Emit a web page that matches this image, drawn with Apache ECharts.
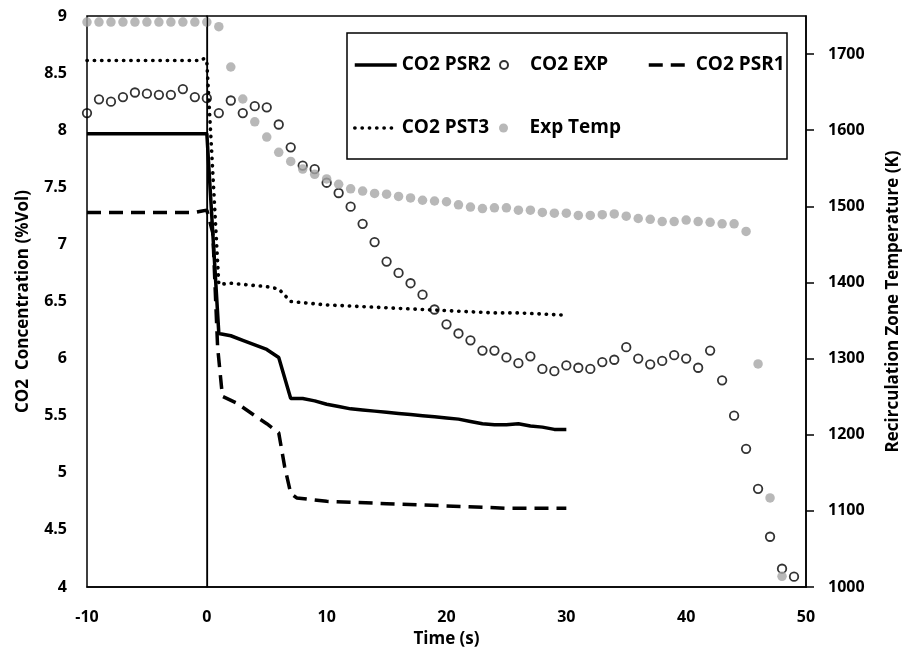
<!DOCTYPE html>
<html>
<head>
<meta charset="utf-8">
<script src="https://cdn.jsdelivr.net/npm/echarts@6/dist/echarts.min.js"></script>
<style>
  html, body { margin: 0; padding: 0; background: #fff; }
  #co2Chart { width: 910px; height: 662px; }
</style>
</head>
<body>
<div id="co2Chart"></div>
<script>
  // measured points (time in s)
  const expTime = [-10, -9, -8, -7, -6, -5, -4, -3, -2, -1, 0, 1, 2, 3, 4, 5, 6, 7, 8, 9,
    10, 11, 12, 13, 14, 15, 16, 17, 18, 19, 20, 21, 22, 23, 24, 25, 26, 27, 28, 29,
    30, 31, 32, 33, 34, 35, 36, 37, 38, 39, 40, 41, 42, 43, 44, 45, 46, 47, 48, 49];
  const expCo2 = [8.15, 8.27, 8.25, 8.29, 8.33, 8.32, 8.31, 8.31, 8.36, 8.29, 8.28, 8.15, 8.26, 8.15, 8.21, 8.20, 8.05, 7.85, 7.69, 7.66,
    7.54, 7.45, 7.33, 7.18, 7.02, 6.85, 6.75, 6.66, 6.56, 6.43, 6.30, 6.22, 6.16, 6.07, 6.07, 6.01, 5.96, 6.02, 5.91, 5.89,
    5.94, 5.92, 5.91, 5.97, 5.99, 6.10, 6.00, 5.95, 5.98, 6.03, 6.00, 5.92, 6.07, 5.81, 5.50, 5.21, 4.86, 4.44, 4.16, 4.09];
  const expTemp = [1742, 1742, 1742, 1742, 1742, 1742, 1742, 1742, 1742, 1742, 1742, 1736, 1683, 1641, 1611, 1591, 1571, 1559, 1549, 1542,
    1536, 1529, 1523, 1520, 1517, 1516, 1513, 1511, 1508, 1507, 1506, 1502, 1499, 1497, 1498, 1498, 1495, 1495, 1492, 1491,
    1491, 1488, 1488, 1489, 1490, 1487, 1484, 1483, 1480, 1480, 1482, 1480, 1479, 1477, 1477, 1467, 1293, 1117, 1014];

  // model curves
  const psr2Time = [-10, 0, 1, 2, 3, 4, 5, 6, 7, 8, 9, 10, 11, 12, 13, 14, 15, 16, 17, 18, 19, 20, 21, 22, 23, 24, 25, 26, 27, 28, 29, 30];
  const psr2Co2 = [7.97, 7.97, 6.22, 6.20, 6.16, 6.12, 6.08, 6.01, 5.65, 5.65, 5.63, 5.60, 5.58, 5.56, 5.55, 5.54, 5.53, 5.52, 5.51, 5.50, 5.49, 5.48, 5.47, 5.45, 5.43, 5.42, 5.42, 5.43, 5.41, 5.40, 5.38, 5.38];
  const psr1Time = [-10, -1, -0.5, 0, 0.5, 0.9, 1.3, 2.5, 4, 5, 6, 6.5, 7, 7.5, 10, 15, 20, 25, 30];
  const psr1Co2 = [7.28, 7.28, 7.29, 7.30, 7.10, 6.10, 5.67, 5.61, 5.50, 5.43, 5.35, 5.05, 4.82, 4.78, 4.75, 4.73, 4.71, 4.69, 4.69];
  const pst3Time = [-10, -0.5, -0.2, 0, 1, 2, 3, 4, 5, 6, 7, 8, 10, 12, 14, 16, 18, 20, 22, 24, 26, 28, 30];
  const pst3Co2 = [8.61, 8.61, 8.63, 8.60, 6.65, 6.66, 6.65, 6.64, 6.63, 6.61, 6.50, 6.49, 6.47, 6.46, 6.45, 6.44, 6.43, 6.42, 6.41, 6.40, 6.40, 6.39, 6.38];

  const tempTicks = [1000, 1100, 1200, 1300, 1400, 1500, 1600, 1700];

  const zip = (xs, ys) => xs.map((x, i) => [x, ys[i]]);

  const font = 'Open Sans';
  const legendBase = {
    padding: 0,
    itemWidth: 42,
    itemHeight: 14,
    itemGap: 0,
    selectedMode: false,
    textStyle: { fontFamily: font, fontWeight: 'bold', fontSize: 19, color: '#000', lineHeight: 22 }
  };
  // line series: hide the marker legend puts in the middle of the line sample
  const lineLegend = {
    itemStyle: { color: 'rgba(0,0,0,0)', borderWidth: 0 },
    lineStyle: { width: 3.5 }
  };
  const axisName = { fontFamily: font, fontWeight: 'bold', fontSize: 17, color: '#000' };
  const tickLabel = { fontFamily: font, fontWeight: 'bold', fontSize: 16, color: '#000' };

  const myChart = echarts.init(document.getElementById('co2Chart'));

  const option = {
    backgroundColor: '#fff',
    animation: false,
    grid: {
      left: 87, right: 99, top: 16, bottom: 75,
      show: true, borderColor: '#000', borderWidth: 1.5
    },
    graphic: [{
      type: 'rect', z: 3,
      shape: { x: 347, y: 33, width: 440, height: 126 },
      style: { fill: '#fff', stroke: '#000', lineWidth: 1.5 }
    }],
    legend: [
      Object.assign({}, legendBase, lineLegend, { data: ['CO2 PSR2'], left: 353, top: 54 }),
      Object.assign({}, legendBase, { data: ['CO2 EXP'], left: 499, top: 54, itemHeight: 8 }),
      Object.assign({}, legendBase, lineLegend, { data: ['CO2 PSR1'], left: 647, top: 54 }),
      Object.assign({}, legendBase, lineLegend, { data: ['CO2 PST3'], left: 353, top: 117 }),
      Object.assign({}, legendBase, { data: ['Exp Temp'], left: 499, top: 117, itemHeight: 9 })
    ],
    xAxis: {
      type: 'value', min: -10, max: 50, interval: 10,
      name: 'Time (s)', nameLocation: 'middle', nameGap: 44, nameTextStyle: axisName,
      axisLine: { lineStyle: { color: '#000', width: 1.5 } },
      axisTick: { show: false },
      splitLine: { show: false },
      axisLabel: Object.assign({ margin: 22 }, tickLabel)
    },
    yAxis: [{
      type: 'value', min: 4, max: 9, interval: 0.5,
      name: 'CO2  Concentration (%Vol)', nameLocation: 'middle', nameGap: 55, nameRotate: 90,
      nameTextStyle: axisName,
      axisLine: { show: true, lineStyle: { color: '#000', width: 1.5 } },
      axisTick: { show: false },
      splitLine: { show: false },
      axisLabel: Object.assign({ margin: 20 }, tickLabel)
    }, {
      type: 'value', min: 1000, max: 1750, position: 'right',
      name: 'Recirculation Zone Temperature (K)', nameLocation: 'middle', nameGap: 79, nameRotate: 90,
      nameTextStyle: axisName,
      axisLine: { show: true, lineStyle: { color: '#000', width: 1.5 } },
      axisTick: { show: true, length: 8, lineStyle: { color: '#000', width: 1.5 }, customValues: tempTicks },
      splitLine: { show: false },
      axisLabel: Object.assign({ margin: 22, customValues: tempTicks, formatter: v => String(v) }, tickLabel)
    }],
    series: [{
      name: 'CO2 PSR2',
      type: 'line',
      data: zip(psr2Time, psr2Co2),
      symbol: 'none',
      itemStyle: { color: '#000' },
      lineStyle: { color: '#000', width: 3.5 },
      markLine: {
        silent: true,
        symbol: ['none', 'none'],
        label: { show: false },
        lineStyle: { color: '#000', width: 1.2, type: 'solid' },
        data: [{ xAxis: 0 }]
      }
    }, {
      name: 'CO2 EXP',
      type: 'scatter',
      data: zip(expTime, expCo2),
      symbol: 'circle',
      symbolSize: 8.5,
      clip: false,
      itemStyle: { color: 'rgba(255,255,255,0)', borderColor: '#000', borderWidth: 1.8 }
    }, {
      name: 'CO2 PSR1',
      type: 'line',
      data: zip(psr1Time, psr1Co2),
      symbol: 'none',
      itemStyle: { color: '#000' },
      lineStyle: { color: '#000', width: 3.5, type: [14, 8] }
    }, {
      name: 'CO2 PST3',
      type: 'line',
      data: zip(pst3Time, pst3Co2),
      symbol: 'none',
      itemStyle: { color: '#000' },
      lineStyle: { color: '#000', width: 3.6, type: [0.3, 7], cap: 'round' }
    }, {
      name: 'Exp Temp',
      type: 'scatter',
      yAxisIndex: 1,
      data: zip(expTime.slice(0, expTemp.length), expTemp),
      symbolSize: 9.5,
      clip: false,
      itemStyle: { color: '#a6a6a6' }
    }]
  };

  myChart.setOption(option);
</script>
</body>
</html>
